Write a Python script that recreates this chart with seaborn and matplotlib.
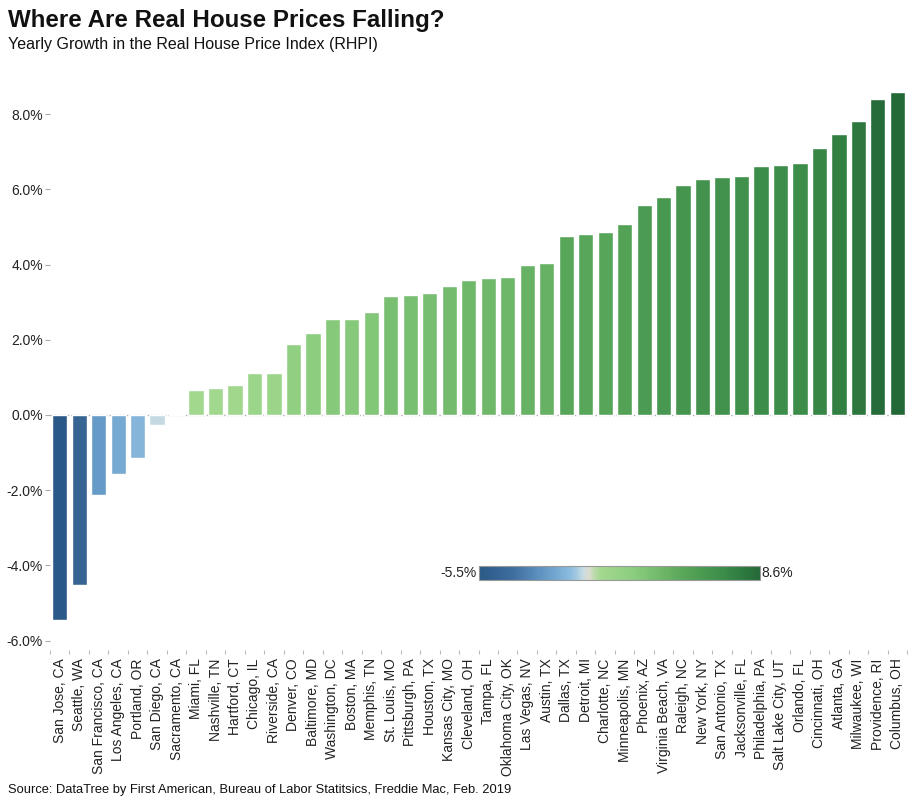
import matplotlib
matplotlib.use("Agg")
import matplotlib.pyplot as plt
import seaborn as sns
import numpy as np
import pandas as pd
from matplotlib.colors import LinearSegmentedColormap, Normalize
from matplotlib.cm import ScalarMappable

cities = ["San Jose, CA", "Seattle, WA", "San Francisco, CA", "Los Angeles, CA", "Portland, OR",
          "San Diego, CA", "Sacramento, CA", "Miami, FL", "Nashville, TN", "Hartford, CT",
          "Chicago, IL", "Riverside, CA", "Denver, CO", "Baltimore, MD", "Washington, DC",
          "Boston, MA", "Memphis, TN", "St. Louis, MO", "Pittsburgh, PA", "Houston, TX",
          "Kansas City, MO", "Cleveland, OH", "Tampa, FL", "Oklahoma City, OK", "Las Vegas, NV",
          "Austin, TX", "Dallas, TX", "Detroit, MI", "Charlotte, NC", "Minneapolis, MN",
          "Phoenix, AZ", "Virginia Beach, VA", "Raleigh, NC", "New York, NY", "San Antonio, TX",
          "Jacksonville, FL", "Philadelphia, PA", "Salt Lake City, UT", "Orlando, FL",
          "Cincinnati, OH", "Atlanta, GA", "Milwaukee, WI", "Providence, RI", "Columbus, OH"]
growth = [-5.46, -4.53, -2.12, -1.56, -1.14, -0.27, 0.03, 0.66, 0.72, 0.79,
          1.11, 1.11, 1.88, 2.17, 2.54, 2.54, 2.73, 3.15, 3.18, 3.23,
          3.42, 3.60, 3.63, 3.68, 4.00, 4.03, 4.77, 4.82, 4.87, 5.09,
          5.59, 5.80, 6.12, 6.28, 6.33, 6.36, 6.62, 6.65, 6.70, 7.10,
          7.47, 7.81, 8.40, 8.58]
y_ticks = [-6, -4, -2, 0, 2, 4, 6, 8]
vmin, vmax = -5.5, 8.6

sns.set_theme(style="white")
plt.rcParams['font.family'] = ['Liberation Sans', 'DejaVu Sans']

z = (0 - vmin) / (vmax - vmin)
cmap = LinearSegmentedColormap.from_list("rhpi", [
    (0.0, "#2b5987"),
    (0.12, "#3e6e9e"),
    (0.25, "#6b9fcb"),
    (0.33, "#8ebedf"),
    (z - 0.02, "#c6dbe3"),
    (z, "#dcdcd0"),
    (z + 0.04, "#a3d98f"),
    (0.55, "#8ccd7f"),
    (0.72, "#5aa85a"),
    (0.88, "#3a8a48"),
    (1.0, "#236938"),
])
norm = Normalize(vmin, vmax)
colors = [cmap(norm(v)) for v in growth]

df = pd.DataFrame({"city": cities, "growth": growth})

fig = plt.figure(figsize=(9.08, 8.0), dpi=100)
ax = fig.add_axes([0.055, 0.1875, 0.944, 0.7075])
sns.barplot(data=df, x="city", y="growth", hue="city", palette=colors, legend=False,
            width=0.78, saturation=1, ax=ax)

ax.set_ylim(-6.25, 8.8)
ax.set_xlim(-0.5, len(cities) - 0.5)
ax.axhline(0, color="#aaaaaa", lw=1, ls=(0, (1, 1.5)), zorder=0)
for s in ax.spines.values():
    s.set_visible(False)
ax.set_yticks(y_ticks)
ax.set_yticklabels([f"{t:.1f}%" for t in y_ticks], fontsize=10, color="#222222")
ax.tick_params(axis="y", length=3.5, color="#aaaaaa", width=0.8, left=True, pad=1.5)
ax.set_xticks(range(len(cities)))
ax.set_xticklabels(cities, rotation=90, fontsize=10, color="#222222")
ax.tick_params(axis="x", length=0, pad=6)
ax.set_xticks(np.arange(-0.5, len(cities), 1), minor=True)
ax.tick_params(axis="x", which="minor", length=3, color="#bbbbbb", bottom=True, width=0.8)
ax.set_xlabel("")
ax.set_ylabel("")

# colorbar
cax = fig.add_axes([0.5275, 0.275, 0.3095, 0.0175])
cb = fig.colorbar(ScalarMappable(norm=norm, cmap=cmap), cax=cax, orientation="horizontal", ticks=[0])
cb.outline.set_edgecolor("#999999")
cb.outline.set_linewidth(0.8)
cax.tick_params(axis="x", length=3, direction="in", labelbottom=False, color="#333333", width=0.8)
cax.text(-0.01, 0.5, "-5.5%", transform=cax.transAxes, ha="right", va="center", fontsize=10, color="#222222")
cax.text(1.005, 0.5, "8.6%", transform=cax.transAxes, ha="left", va="center", fontsize=10, color="#222222")

fig.text(0.009, 0.974, "Where Are Real House Prices Falling?", fontsize=17.4, fontweight="bold",
         ha="left", va="center", color="#111111")
fig.text(0.009, 0.944, "Yearly Growth in the Real House Price Index (RHPI)", fontsize=11.5,
         ha="left", va="center", color="#111111")
fig.text(0.009, 0.012, "Source: DataTree by First American, Bureau of Labor Statitsics, Freddie Mac, Feb. 2019",
         fontsize=9.3, ha="left", va="center", color="#111111")

fig.savefig("out.png", dpi=100)
